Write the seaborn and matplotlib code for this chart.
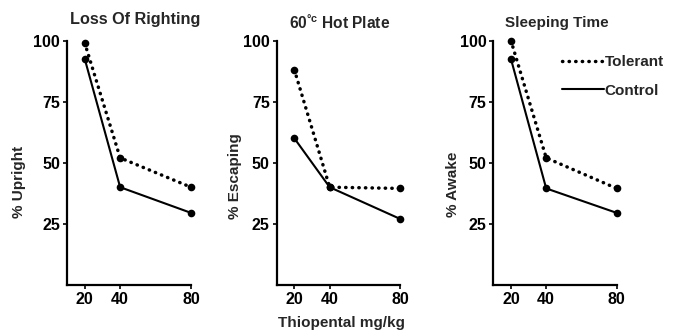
import matplotlib
matplotlib.use("Agg")
import matplotlib.pyplot as plt
from matplotlib.lines import Line2D
import seaborn as sns
import pandas as pd

doses = [20, 40, 80]
titles = ["Loss Of Righting", "60$^{\\mathrm{°c}}$ Hot Plate", "Sleeping Time"]
ylabels = ["% Upright", "% Escaping", "% Awake"]
tolerant = [[99, 52, 40], [88, 40, 39.5], [100, 52, 39.5]]
control = [[92.5, 40, 29.5], [60, 40, 27], [92.5, 39.5, 29.5]]
yticks = [25, 50, 75, 100]
xlabel = "Thiopental mg/kg"
series_names = ["Tolerant", "Control"]

sns.set_style("ticks")
plt.rcParams["font.family"] = ["Liberation Sans", "DejaVu Sans"]
plt.rcParams["font.weight"] = "bold"
plt.rcParams["mathtext.fontset"] = "custom"
plt.rcParams["mathtext.rm"] = "Liberation Sans:bold"
plt.rcParams["mathtext.bf"] = "Liberation Sans:bold"

fig = plt.figure(figsize=(6.73, 3.32), dpi=100)
W, H = 673, 332
lefts = [67, 276.7, 493.3]
widths = [124, 123.6, 123.4]
top, bottom = 40.5, 285
ylab_x = [-0.33, -0.28, -0.27]
ylab_y = [0.42, 0.445, 0.41]
title_y = [24, 29, 27]
title_x = [135, 340, 557]
title_fs = [11.7, 11.2, 11]

dotted = (0, (0.1, 1.8))
for i in range(3):
    ax = fig.add_axes([lefts[i] / W, 1 - bottom / H, widths[i] / W, (bottom - top) / H])
    df_t = pd.DataFrame({"dose": doses, "pct": tolerant[i]})
    df_c = pd.DataFrame({"dose": doses, "pct": control[i]})
    sns.lineplot(data=df_t, x="dose", y="pct", ax=ax, color="black", marker="o",
                 markersize=5.5, markeredgewidth=0, linewidth=2.5, linestyle=dotted,
                 dash_capstyle="round", clip_on=False)
    sns.lineplot(data=df_c, x="dose", y="pct", ax=ax, color="black", marker="o",
                 markersize=5.5, markeredgewidth=0, linewidth=1.5, linestyle="-",
                 clip_on=False)
    ax.set_xlim(10, 80)
    ax.set_ylim(0, 100)
    ax.set_xticks(doses)
    ax.set_xticklabels([str(d) for d in doses], fontsize=11.5, fontweight="bold")
    ax.set_yticks(yticks)
    ax.set_yticklabels([str(t) for t in yticks], fontsize=11.5, fontweight="bold")
    ax.tick_params(length=3, width=1.2, pad=2, colors="black")
    sns.despine(ax=ax)
    for s in ["left", "bottom"]:
        ax.spines[s].set_linewidth(1.6)
        ax.spines[s].set_color("black")
    ax.set_xlabel("")
    ax.set_ylabel(ylabels[i], fontsize=11, fontweight="bold")
    ax.yaxis.set_label_coords(ylab_x[i], ylab_y[i])
    fig.text(title_x[i] / W, 1 - title_y[i] / H, titles[i], ha="center", va="baseline",
             fontsize=title_fs[i], fontweight="bold")
    if i == 2:
        handles = [Line2D([], [], color="black", linewidth=2.5, linestyle=dotted,
                          dash_capstyle="round"),
                   Line2D([], [], color="black", linewidth=1.5)]
        leg = ax.legend(handles, series_names, loc="upper left",
                        bbox_to_anchor=(562 / W, 1 - 55 / H),
                        bbox_transform=fig.transFigure, frameon=False,
                        handlelength=2.75, handletextpad=0.05, borderpad=0,
                        borderaxespad=0, labelspacing=0.95,
                        prop={"size": 11, "weight": "bold"})

fig.text(341 / W, 1 - 323 / H, xlabel, ha="center", va="center", fontsize=11,
         fontweight="bold")
fig.savefig("out.png", dpi=100)
